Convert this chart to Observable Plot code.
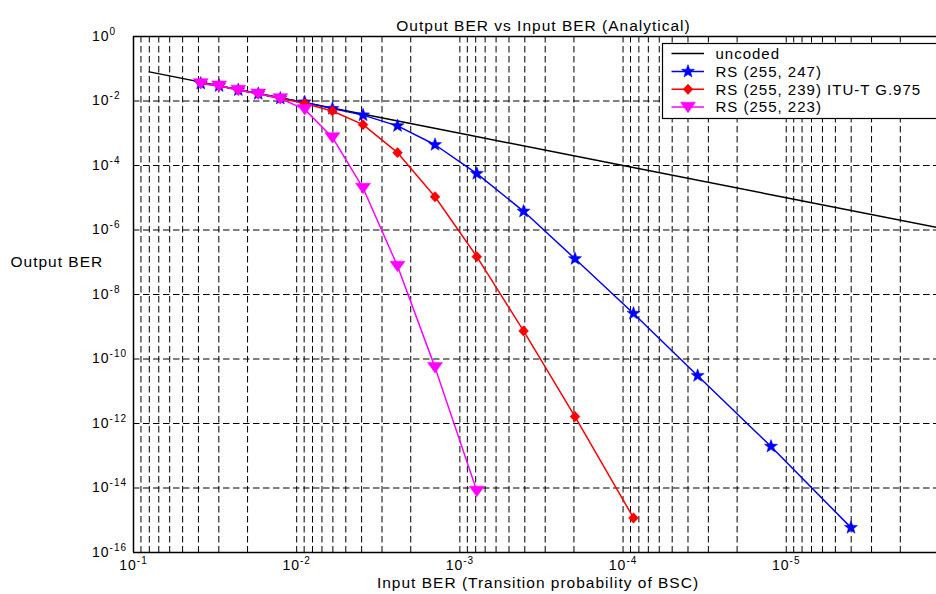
<!DOCTYPE html>
<html><head><meta charset="utf-8">
<script src="https://cdn.jsdelivr.net/npm/d3@7"></script>
<script src="https://cdn.jsdelivr.net/npm/@observablehq/plot@0.6"></script>
<style>
html,body{margin:0;padding:0;background:#fff;overflow:hidden;}
#chart{position:relative;width:936px;height:594px;}
</style></head><body><div id="chart"></div>
<script>
// ---- data ----
const inputBER = [0.0387, 0.0299, 0.0228, 0.0172, 0.0126, 0.00893, 0.00604, 0.00392, 0.00241, 0.00142,
                  0.000787, 0.000407, 0.000197, 8.63e-5, 3.49e-5, 1.24e-5, 4.01e-6];
const rs247 = [0.035, 0.0295, 0.0219, 0.0168, 0.0121, 9.2e-3, 5.8e-3, 3.65e-3, 1.69e-3, 4.4e-4,
               5.6e-5, 3.8e-6, 1.28e-7, 2.58e-9, 3.03e-11, 1.94e-13, 5.9e-16];
const rs239 = [0.036, 0.0296, 0.0219, 0.0168, 0.0121, 8.4e-3, 4.9e-3, 1.85e-3, 2.5e-4, 1.07e-5,
               1.49e-7, 7.4e-10, 1.64e-12, 1.18e-15];
const rs223 = [0.035, 0.0297, 0.0219, 0.0168, 0.0120, 5.5e-3, 7.4e-4, 2.0e-5, 7.6e-8, 5.5e-11, 8.1e-15];
const uncodedX = [0.08, 1e-2, 1e-3, 1e-4, 1e-5, 1e-6];
const uncodedY = [0.08, 1e-2, 1e-3, 1e-4, 1e-5, 1e-6];
const xTickLabels = ["10^-1", "10^-2", "10^-3", "10^-4", "10^-5"];
const xTickValues = [1e-1, 1e-2, 1e-3, 1e-4, 1e-5];
const yTickLabels = ["10^0", "10^-2", "10^-4", "10^-6", "10^-8", "10^-10", "10^-12", "10^-14", "10^-16"];
const yTickValues = [1, 1e-2, 1e-4, 1e-6, 1e-8, 1e-10, 1e-12, 1e-14, 1e-16];
const xDomain = [1e-1, 1.2e-6];
const yDomain = [1e-16, 1];
const seriesNames = ["uncoded", "RS (255, 247)", "RS (255, 239) ITU-T G.975", "RS (255, 223)"];
const seriesColors = ["#000000", "#0000ff", "#ff0000", "#ff00ff"];
const titleText = "Output BER vs Input BER (Analytical)";
const xLabelText = "Input BER (Transition probability of BSC)";
const yLabelText = "Output BER";

// ---- grid positions (1..9 x 10^k) ----
const xGrid = [];
for (let k = -1; k >= -6; k--) for (let m = 1; m <= 9; m++) xGrid.push(m * Math.pow(10, k));
const xGridIn = xGrid.filter(v => v < 0.1 && v >= xDomain[1]);
const yGrid = yTickValues.filter(v => v !== 1 && v !== 1e-16);

// ---- symbols ----
const starSym = {draw(ctx, size) {
  const R = Math.sqrt(size / Math.PI) * 1.15, r0 = R * 0.42;
  for (let i = 0; i < 10; i++) {
    const a = -Math.PI / 2 + i * Math.PI / 5, rr = i % 2 ? r0 : R;
    const px = rr * Math.cos(a), py = rr * Math.sin(a);
    if (i) ctx.lineTo(px, py); else ctx.moveTo(px, py);
  }
  ctx.closePath();
}};
const diamondSym = {draw(ctx, size) {
  const r = Math.sqrt(size / Math.PI);
  ctx.moveTo(0, -r); ctx.lineTo(r * 0.95, 0); ctx.lineTo(0, r); ctx.lineTo(-r * 0.95, 0); ctx.closePath();
}};
const triDownSym = {draw(ctx, size) {
  const r = Math.sqrt(size / Math.PI);
  ctx.moveTo(-1.25 * r, -0.8 * r); ctx.lineTo(1.25 * r, -0.8 * r); ctx.lineTo(0, 0.95 * r); ctx.closePath();
}};
const symbols = [null, starSym, diamondSym, triDownSym];
const symR = [0, 6, 5.2, 6];

const mk = (xs, ys) => ys.map((y, i) => ({x: xs[i], y}));
const series = [mk(uncodedX, uncodedY), mk(inputBER, rs247), mk(inputBER, rs239), mk(inputBER, rs223)];

const marks = [
  Plot.ruleX(xGridIn, {stroke: "black", strokeWidth: 1, strokeDasharray: "6.5,3.5"}),
  Plot.ruleY(yGrid, {stroke: "black", strokeWidth: 1, strokeDasharray: "6.5,3.5"}),
  Plot.ruleX([xDomain[0]], {stroke: "black", strokeWidth: 1.5}),
  Plot.ruleY([yDomain[0], yDomain[1]], {stroke: "black", strokeWidth: 1.5}),
];
series.forEach((d, i) => {
  marks.push(Plot.line(d, {x: "x", y: "y", stroke: seriesColors[i], strokeWidth: 1.5, clip: true}));
  if (symbols[i]) marks.push(Plot.dot(d, {x: "x", y: "y", symbol: symbols[i], r: symR[i], fill: seriesColors[i], stroke: seriesColors[i], strokeWidth: 0.5}));
});
marks.push(
  Plot.text(yTickValues, {y: d => d, text: (d, i) => yTickLabels[i], frameAnchor: "left", dx: -41.5, textAnchor: "start", fontSize: 14}),
  Plot.text(xTickValues, {x: d => d, text: (d, i) => xTickLabels[i], frameAnchor: "bottom", dy: 17, textAnchor: "middle", fontSize: 14}),
  Plot.text([titleText], {frameAnchor: "top", dy: -16.5, dx: 8.5, fontSize: 15.5}),
  Plot.text([xLabelText], {frameAnchor: "bottom", dy: 35.5, dx: 3, fontSize: 15.5}),
  Plot.text([yLabelText], {frameAnchor: "left", dx: -123, dy: -32.3, textAnchor: "start", fontSize: 15.5})
);

const svg = Plot.plot({
  width: 936, height: 594,
  marginLeft: 133, marginRight: 0, marginTop: 36, marginBottom: 42,
  x: {type: "log", domain: xDomain, axis: null},
  y: {type: "log", domain: yDomain, axis: null},
  style: {fontFamily: "'Liberation Sans', Arial, sans-serif", letterSpacing: "1px", color: "black", background: "white"},
  marks
});
document.getElementById("chart").appendChild(svg);

// superscript exponents on tick labels
const ns = "http://www.w3.org/2000/svg";
Array.from(svg.querySelectorAll("text")).forEach(t => {
  const s = t.textContent;
  if (!s.includes("^")) return;
  const [base, exp] = s.split("^");
  while (t.firstChild) t.removeChild(t.firstChild);
  const a = document.createElementNS(ns, "tspan"); a.textContent = base; t.appendChild(a);
  const b = document.createElementNS(ns, "tspan"); b.textContent = exp;
  b.setAttribute("dy", "-6"); b.setAttribute("font-size", "10"); t.appendChild(b);
});

// legend
const g = d3.select(svg).append("g").attr("font-size", 15).attr("text-anchor", "start");
g.append("rect").attr("x", 662.5).attr("y", 43.5).attr("width", 300).attr("height", 75)
  .attr("fill", "white").attr("stroke", "black").attr("stroke-width", 1.2);
const rowY = [53.5, 71.5, 89.3, 107];
seriesNames.forEach((name, i) => {
  g.append("line").attr("x1", 671.5).attr("x2", 704).attr("y1", rowY[i]).attr("y2", rowY[i])
    .attr("stroke", seriesColors[i]).attr("stroke-width", 1.5);
  if (symbols[i]) g.append("path").attr("transform", `translate(688,${rowY[i]})`)
    .attr("d", d3.symbol(symbols[i], Math.PI * symR[i] * symR[i])())
    .attr("fill", seriesColors[i]).attr("stroke", seriesColors[i]).attr("stroke-width", 0.5);
  g.append("text").attr("x", 715.5).attr("y", rowY[i]).attr("dy", "0.35em").attr("fill", "black")
    .attr("text-anchor", "start").text(name);
});
</script></body></html>
